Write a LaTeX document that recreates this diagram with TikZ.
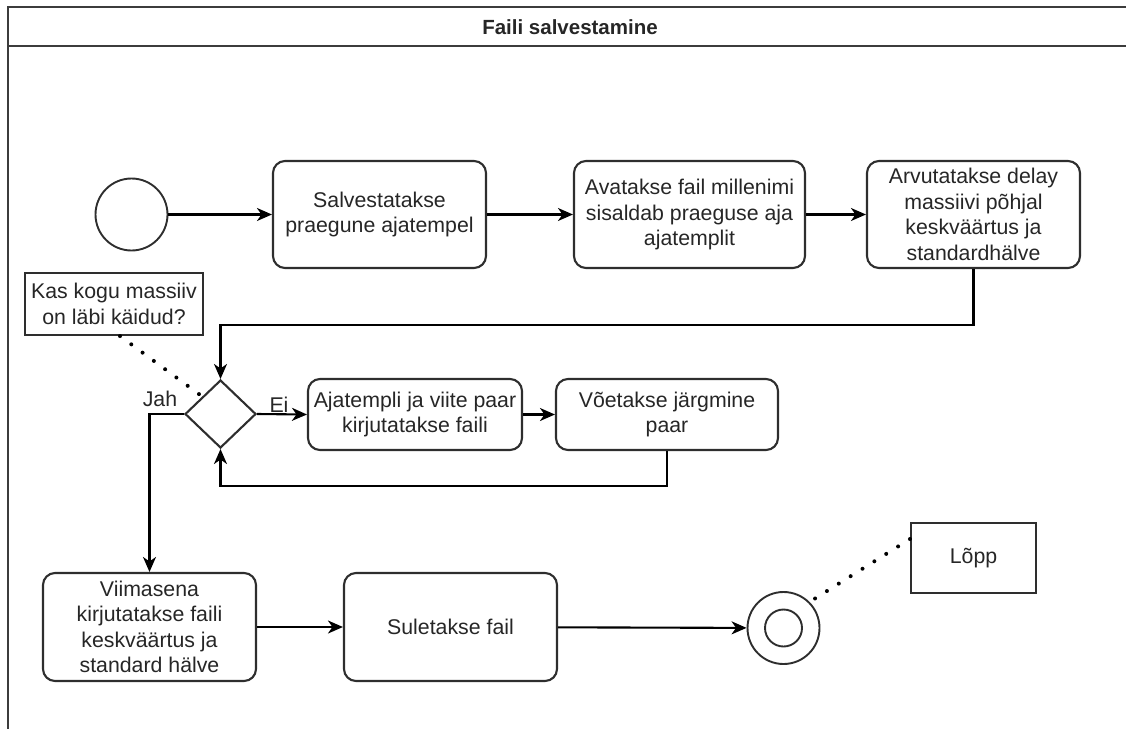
\documentclass[tikz,border=0pt]{standalone}
\usepackage{fontspec}
\setmainfont{Liberation Sans}
\usetikzlibrary{shapes.geometric,arrows.meta,calc}

\definecolor{edge}{HTML}{2E2E2E}
\definecolor{frame}{HTML}{3C3C3C}
\definecolor{ink}{HTML}{262626}

\tikzset{
  base/.style={font=\fontsize{21.3}{25.5}\selectfont, text=ink, align=center, inner sep=2pt},
  task/.style={base, draw=edge, line width=2.1pt, rounded corners=12pt},
  memo/.style={base, draw=edge, line width=2.1pt},
  gate/.style={draw=edge, line width=2.1pt, diamond, inner sep=0pt, minimum width=71pt, minimum height=68pt},
  startev/.style={draw=edge, line width=1.9pt, circle, inner sep=0pt, minimum size=72pt},
  flow/.style={line width=2.1pt, draw=black, -{Stealth[length=15pt,width=13pt,inset=4.5pt]}},
  link/.style={line width=4pt, draw=black, line cap=round, dash pattern=on 0pt off 14pt},
  lbl/.style={base, inner sep=0pt},
}

\begin{document}
\begin{tikzpicture}[x=1pt,y=-1pt]
\useasboundingbox (0,0) rectangle (1126,728);
\begin{scope}
  \clip (0,0) rectangle (1126,728);
  % pool frame with its title bar
  \draw[frame, line width=2.6pt] (1140,7) -- (8,7) -- (8,740);
  \draw[frame, line width=2.6pt] (8,46) -- (1140,46);
\end{scope}
\node[base, font=\fontsize{20.5}{24}\selectfont\bfseries] (title) at (570,27) {Faili salvestamine};

% top row
\node[startev] (start) at (131.5,214.5) {};
\node[task, minimum width=213pt, minimum height=107pt] (b1) at (379.5,214.5) {Salvestatakse\\praegune ajatempel};
\node[task, minimum width=231pt, minimum height=107pt] (b2) at (689.5,214.5) {Avatakse fail millenimi\\sisaldab praeguse aja\\ajatemplit};
\node[task, minimum width=213pt, minimum height=107pt] (b3) at (973.5,214.5) {Arvutatakse delay\\massiivi põhjal\\keskväärtus ja\\standardhälve};

% loop over the array
\node[memo, minimum width=178pt, minimum height=62pt] (note) at (114,304) {Kas kogu massiiv\\on läbi käidud?};
\node[gate] (dia) at (220.5,414) {};
\node[task, minimum width=214pt, minimum height=71pt] (b4) at (415,414.5) {Ajatempli ja viite paar\\kirjutatakse faili};
\node[task, minimum width=222pt, minimum height=71pt] (b5) at (667,414.5) {Võetakse järgmine\\paar};

% bottom row
\node[task, minimum width=213pt, minimum height=108pt] (b6) at (149.5,627) {Viimasena\\kirjutatakse faili\\keskväärtus ja\\standard hälve};
\node[task, minimum width=213pt, minimum height=108pt] (b7) at (450.5,627) {Suletakse fail};
\node[startev] (end) at (783.5,628) {};
\node[draw=edge, line width=1.9pt, circle, inner sep=0pt, minimum size=37pt] (endin) at (end.center) {};
\node[memo, minimum width=125pt, minimum height=70pt] (lopp) at (973.5,558) {Lõpp};

% sequence flows
\draw[flow] (start) -- (b1);
\draw[flow] (b1) -- (b2);
\draw[flow] (b2) -- (b3);
\draw[flow] (b3.south) -- ++(0,56) -| (dia.north);
\draw[flow] (dia.east) -- (b4.west);
\draw[flow] (b4) -- (b5);
\draw[flow] (b5.south) -- ++(0,35) -| (dia.south);
\draw[flow] (dia.west) -| (b6.north);
\draw[flow] (b6) -- (b7);
\draw[flow] (b7) -- (end);

% branch labels
\node[lbl] (ei) at (279,405) {Ei};
\node[lbl] (jah) at (160,399) {Jah};

% associations
\draw[link] ([xshift=6pt]note.south) -- (dia.north west);
\draw[link] ([yshift=19pt]lopp.west) -- (end.45);
\end{tikzpicture}
\end{document}
